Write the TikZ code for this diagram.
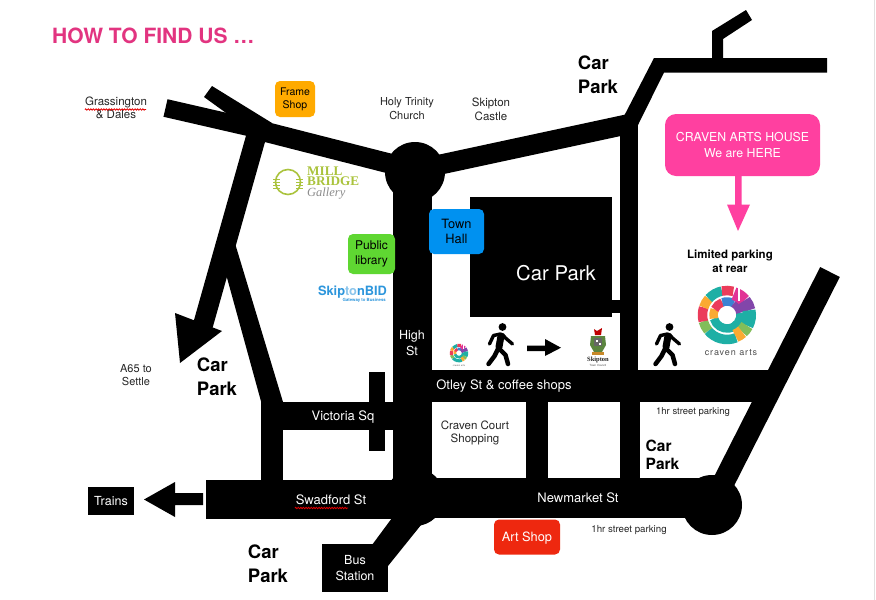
\documentclass[tikz,border=0pt]{standalone}
\usepackage{fontspec}
\setmainfont{TeX Gyre Heros}
\newfontfamily\logoserif{Liberation Serif}
\usetikzlibrary{decorations.pathmorphing}
\definecolor{pinkhead}{RGB}{226,52,128}
\definecolor{pinkbox}{RGB}{255,64,160}
\definecolor{orangebox}{RGB}{255,170,0}
\definecolor{bluebox}{RGB}{0,145,240}
\definecolor{greenbox}{RGB}{95,215,50}
\definecolor{redbox}{RGB}{238,40,15}
\definecolor{millgreen}{RGB}{170,195,60}
\definecolor{bidblue}{RGB}{45,150,220}
\definecolor{lgA}{RGB}{30,175,165}
\definecolor{lgB}{RGB}{235,60,90}
\definecolor{lgC}{RGB}{250,170,50}
\definecolor{lgD}{RGB}{130,70,170}
\definecolor{lgE}{RGB}{60,130,210}
\definecolor{lgF}{RGB}{225,50,150}
\definecolor{lgG}{RGB}{130,190,90}
\tikzset{
  road/.style={draw=black,line width=#1},
  fillblack/.style={fill=black,draw=none},
  lbl/.style={font=\fontsize{11.5}{13.5}\selectfont,align=center,text=black!85,inner sep=0pt},
  whitelbl/.style={lbl,text=white,font=\fontsize{13}{16}\selectfont},
  carpark/.style={font=\fontsize{18.5}{24}\selectfont\bfseries,align=left,text=black,inner sep=0pt},
  bigbox/.style={fill=#1,draw=none,rounded corners=5pt},
  spell/.style={draw=red!90!black,line width=0.8pt,decorate,decoration={zigzag,amplitude=0.7pt,segment length=2.6pt}},
  limb/.style={draw=black,line width=4.5pt,line cap=round,line join=round},
}
% walking figure: #1 = x, #2 = y of head
\newcommand{\walker}[2]{%
  \begin{scope}[shift={(#1,#2)}]
    \fill (0,0) circle (3.9);
    \draw[limb,line width=7pt] (-1.5,9) -- (-3.5,20);
    \draw[limb,line width=3.4pt] (-2,7) -- (-9,8.5) -- (-13,17);
    \draw[limb,line width=3.4pt] (0,7.5) -- (3,11) -- (10,17);
    \draw[limb] (-4.5,22) -- (-8,29) -- (-14,37);
    \draw[limb] (-3,22) -- (3,28) -- (5.5,37);
  \end{scope}}
% ring logo: #1,#2 centre, #3 scale
\newcommand{\ringlogo}[3]{%
  \begin{scope}[shift={(#1,#2)}]
    \foreach \a/\b/\c in {68/140/lgA,140/165/lgG,165/198/lgB,198/222/lgC,222/258/lgA,258/285/lgB}{
      \draw[\c,line width=#3*9.5pt] (\a:#3*24.5) arc[start angle=\a,end angle=\b,radius=#3*24.5];}
    \foreach \a/\b/\c in {-10/165/lgA,165/205/lgC,205/250/lgB,250/300/lgE,300/350/lgD}{
      \draw[\c,line width=#3*8.5pt] (\a:#3*13.5) arc[start angle=\a,end angle=\b,radius=#3*13.5];}
    \foreach \a/\b/\c in {-72/-40/lgF,-40/-12/lgD,-12/28/lgA,28/48/lgG,48/68/lgC}{
      \draw[\c,line width=#3*13pt] (\a:#3*22.5) arc[start angle=\a,end angle=\b,radius=#3*22.5];}
    \draw[white,line width=#3*1.6pt] (#3*12,-#3*33) -- (#3*12,-#3*14);
  \end{scope}}
\begin{document}
\begin{tikzpicture}[x=1pt,y=-1pt]
\useasboundingbox (0,0) rectangle (876,600);
\fill[white] (0,0) rectangle (876,600);
\draw[black!12,line width=0.8pt] (874.5,0) -- (874.5,600);

% ---- roads ----
\draw[road=18] (165.5,108) -- (270,132);
\draw[road=20] (266,132) -- (415,170);
\fill[black] (212,86) -- (272,123) -- (258,136) -- (204,97) -- cycle;
\draw[road=20] (258,130) -- (203,325);
\fill[black] (175,313) -- (222,331) -- (180,363) -- cycle;
\fill[black] (218,245) -- (234,240) -- (283,402) -- (262,405) -- cycle;
\fill[black] (261,402) rectangle (283,490);
\fill[black] (261,402) rectangle (396,430);
\fill[black] (369,372) rectangle (385,451);
\fill[black] (393,170) rectangle (432,500);
\draw[road=20] (415,170) -- (629,124);
\fill[black] (619.5,122) rectangle (638,385);
\fill[black] (622,120) -- (654,58) -- (827,58) -- (827,72.5) -- (664,72.5) -- (638,125) -- cycle;
\fill[black] (712,62) -- (712,31) -- (746,10) -- (752,20) -- (723,39) -- (723,62) -- cycle;
\fill[black] (470,197) rectangle (612,317);
\fill[black] (605,299.5) rectangle (625,313);
\fill[black] (394,369.5) rectangle (771,402);
\draw[road=22] (712,505) -- (830,272);
\fill[black] (771,369.5) -- (790,369.5) -- (770,403) -- (755,402) -- cycle;
\fill[black] (206,480) rectangle (430,519);
\fill[black] (415,478) rectangle (712,518);
\fill[black] (526,400) rectangle (548,480);
\fill[black] (620,400) rectangle (640,480);
\fill[black] (415,497) circle (29);
\fill[black] (415,172) circle (30);
\fill[black] (712,505) circle (30);
\fill[black] (372,545) -- (392,518) -- (425,520) -- (388,566) -- cycle;

% ---- trains arrow ----
\fill[black] (203,493) -- (175,493) -- (175,482) -- (144,499.5) -- (175,517) -- (175,505) -- (203,505) -- cycle;
\node[fillblack,text=white,font=\fontsize{12.5}{14}\selectfont,minimum width=46pt,minimum height=28pt,inner sep=0pt,text depth=0pt] (trains) at (111,501) {Trains};
\node[fillblack,text=white,font=\fontsize{12.5}{16}\selectfont,align=center,minimum width=66pt,minimum height=48pt,inner sep=0pt] (bus) at (355,568) {Bus\\Station};

% ---- coloured boxes ----
\node[bigbox=orangebox,minimum width=40pt,minimum height=36pt,inner sep=0pt,align=center,font=\fontsize{10.5}{13}\selectfont] (frame) at (295,99) {Frame\\Shop};
\node[bigbox=bluebox,minimum width=55pt,minimum height=45pt,inner sep=0pt,align=center,font=\fontsize{12.8}{15.5}\selectfont] (town) at (456.5,231.5) {Town\\Hall};
\node[bigbox=greenbox,minimum width=47pt,minimum height=40pt,inner sep=0pt,align=center,font=\fontsize{12}{14.5}\selectfont] (lib) at (371.5,254) {Public\\library};
\node[bigbox=redbox,text=white,minimum width=66pt,minimum height=35pt,inner sep=0pt,text depth=0pt,font=\fontsize{12.8}{14}\selectfont] (art) at (527,537) {Art Shop};
\node[fill=pinkbox,draw=none,rounded corners=11pt,text=white,minimum width=155pt,minimum height=62pt,inner sep=0pt,align=center,font=\fontsize{12.3}{16}\selectfont] (house) at (742.5,145) {\raisebox{6pt}{\parbox{150pt}{\centering CRAVEN ARTS HOUSE\\We are HERE}}};
\fill[pinkbox] (735,175) -- (741.5,175) -- (741.5,204.5) -- (750,204.5) -- (738,231) -- (727,204.5) -- (735,204.5) -- cycle;

% ---- headings and labels ----
\node[anchor=west,inner sep=0pt,text=pinkhead,font=\fontsize{21}{24}\selectfont\bfseries] (title) at (52,36) {HOW TO FIND US …};
\node[lbl] (grass) at (116,108) {Grassington\\\& Dales};
\draw[spell] (85,109.5) -- (146,109.5);
\node[lbl,font=\fontsize{11}{14}\selectfont] (trinity) at (407,109) {Holy Trinity\\Church};
\node[lbl,font=\fontsize{11.5}{14}\selectfont] (castle) at (491,109) {Skipton\\Castle};
\node[carpark] (cp1) at (598,75) {Car\\Park};
\node[carpark] (cp2) at (217,377) {Car\\Park};
\node[carpark] (cp3) at (268,564) {Car\\Park};
\node[carpark,font=\fontsize{15.5}{18}\selectfont\bfseries] (cp5) at (662.5,455) {Car\\Park};
\node[text=white,inner sep=0pt,font=\fontsize{20.3}{22}\selectfont] (cpb) at (556,273) {Car Park};
\node[whitelbl,font=\fontsize{12.5}{16}\selectfont] (high) at (412,343) {High\\St};
\node[whitelbl] (otley) at (504,386.5) {Otley St \& coffee shops};
\node[whitelbl] (vic) at (343,417) {Victoria Sq};
\node[whitelbl] (swad) at (331,500) {Swadford St};
\draw[spell] (295,508) -- (348,508);
\node[whitelbl] (newm) at (578,498) {Newmarket St};
\node[lbl,font=\fontsize{11.5}{12.8}\selectfont] (ccs) at (475,433) {Craven Court\\Shopping};
\node[lbl,font=\fontsize{9.5}{11}\selectfont] (p1) at (693,412) {1hr street parking};
\node[lbl,font=\fontsize{9.7}{11}\selectfont] (p2) at (629,530) {1hr street parking};
\node[lbl,font=\fontsize{11}{13}\selectfont] (a65) at (136,375) {A65 to\\Settle};
\node[lbl,font=\fontsize{11.5}{14}\selectfont\bfseries,text=black] (lim) at (730,261) {Limited parking\\at rear};

% ---- Mill Bridge logo ----
\draw[millgreen,line width=1.6pt] (288,182) circle (12.5);
\foreach \d in {-3,0,3,6}{
  \draw[millgreen,line width=0.9pt] (273,182+\d) -- (280,182+\d);
  \draw[millgreen,line width=0.9pt] (296,182+\d) -- (303,182+\d);}
\node[anchor=north west,inner sep=0pt,align=left,text=millgreen,font=\logoserif\fontsize{13.2}{10}\selectfont\bfseries] (mill) at (307,167) {MILL\\BRIDGE\\[0.5pt]\textcolor{black!45}{\mdseries\itshape\fontsize{12.5}{10}\selectfont Gallery}};

% ---- SkiptonBID logo ----
\node[inner sep=0pt,text=bidblue,font=\fontsize{12.8}{13}\selectfont\bfseries] (bid) at (352.5,292) {Skip\textcolor{bidblue!55}{to}nBID};
\node[anchor=east,inner sep=0pt,text=bidblue,font=\fontsize{4.3}{5}\selectfont\bfseries] (bid2) at (386,300) {Gateway to Business};

% ---- walkers, arrow, logos ----
\walker{502.5}{327}
\walker{669.5}{327}
\fill[black] (527,345.5) -- (545,345.5) -- (545,339) -- (561,347.7) -- (545,356) -- (545,351) -- (527,351) -- cycle;
\ringlogo{727}{315}{1}
\node[inner sep=0pt,text=black!70,font=\fontsize{9}{10}\selectfont] (ca) at (731,353) {\addfontfeature{LetterSpace=10}craven arts};
\ringlogo{459}{353}{0.32}
\node[inner sep=0pt,text=black!60,font=\fontsize{2.5}{3}\selectfont] (ca2) at (459,365.5) {craven arts};

% ---- Skipton crest ----
\fill[red!75!black] (594,329) -- (597,331) -- (602,328) -- (601,335) -- (595,335) -- cycle;
\fill[lgG!70!black] (591,336) -- (605,336) -- (606,345) -- (602,352) -- (594,352) -- (590,345) -- cycle;
\fill[black!60] (594,338) rectangle (602,346);
\fill[white] (596,340) rectangle (598,342);
\fill[white] (599,343) rectangle (601,345);
\fill[lgC!80!black] (592,352) rectangle (604,354.5);
\node[inner sep=0pt,text=black!85,font=\logoserif\fontsize{6.5}{7}\selectfont\bfseries] (sk) at (598,360) {Skipton};
\node[inner sep=0pt,text=black!70,font=\fontsize{2.8}{3}\selectfont] (sk2) at (598,365) {Town Council};
\end{tikzpicture}
\end{document}
